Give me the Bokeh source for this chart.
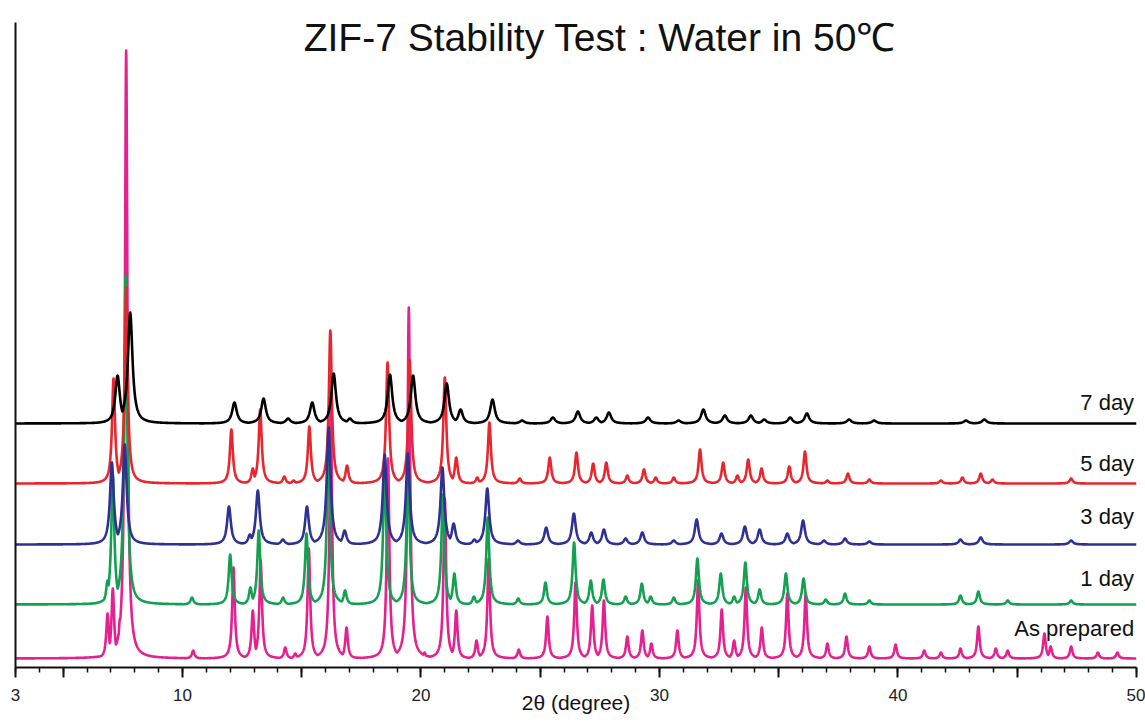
import numpy as np
from bokeh.plotting import figure
from bokeh.models import Range1d, FixedTicker, Label, ColumnDataSource
from bokeh.embed import file_html
from bokeh.resources import INLINE
from bokeh.core.properties import value

# ---------------- data ----------------
series_names = ["As prepared", "1 day", "3 day", "5 day", "7 day"]

# peak positions (2-theta, degree) and heights (arbitrary units) for each pattern
prep_pos = [6.86, 7.08, 7.38, 7.64, 10.45, 12.14, 12.95, 13.28, 14.31, 14.73, 15.30, 16.22,
            16.88, 18.62, 19.49, 20.15, 21.00, 21.48, 22.33, 22.84, 24.10, 25.30, 26.48,
            27.18, 27.67, 28.65, 29.28, 29.66, 30.75, 31.62, 32.61, 33.13, 33.62, 34.29,
            35.36, 36.13, 37.04, 37.84, 38.80, 39.90, 41.10, 41.80, 42.62, 43.37, 44.10,
            44.60, 46.14, 46.40, 47.26, 48.38, 49.20]
prep_int = [45, 70, 40, 608, 8, 91, 48, 98, 11, 5, 110, 250,
            31, 200, 351, 6, 160, 48, 18, 100, 9, 42, 76,
            53, 58, 22, 28, 15, 28, 78, 49, 18, 71, 31,
            65, 65, 15, 22, 12, 14, 8, 6, 10, 32, 10,
            8, 25, 12, 12, 6, 6]

day1_pos = [6.86, 7.08, 7.62, 10.40, 12.00, 12.85, 13.20, 14.22, 15.20, 16.12, 16.82, 18.48,
            19.46, 20.92, 21.40, 22.22, 22.80, 24.08, 25.22, 26.42, 27.12, 27.65, 28.58,
            29.26, 29.63, 30.60, 31.59, 32.57, 33.13, 33.60, 34.20, 35.30, 36.04, 36.97,
            37.78, 38.80, 42.62, 43.37, 44.60, 47.26]
day1_int = [24, 130, 329, 7, 50, 17, 74, 7, 71, 170, 14, 140,
            140, 110, 31, 8, 87, 6, 22, 62, 24, 25, 8,
            21, 8, 7, 46, 31, 8, 42, 15, 31, 26, 5,
            11, 4, 9, 13, 4, 4]

day3_pos = [7.04, 7.58, 11.95, 12.83, 13.16, 14.21, 15.22, 16.13, 16.80, 18.48, 19.45, 20.90,
            21.37, 22.24, 22.78, 24.07, 25.25, 26.41, 27.14, 27.67, 28.58, 29.28, 30.60,
            31.56, 32.60, 33.58, 34.20, 35.36, 36.02, 36.90, 37.78, 38.80, 42.62, 43.47,
            47.26]
day3_int = [82, 100, 38, 10, 54, 5, 38, 117, 14, 90, 91, 77,
            21, 5, 56, 4, 17, 31, 12, 15, 6, 12, 4,
            25, 11, 18, 15, 11, 24, 4, 6, 3, 5, 7,
            4]

day5_pos = [7.11, 7.64, 12.05, 12.95, 13.26, 14.27, 14.66, 15.32, 16.20, 16.90, 18.60, 19.53,
            21.00, 21.48, 22.36, 22.87, 24.14, 25.40, 26.52, 27.22, 27.77, 28.65, 29.35,
            29.84, 30.60, 31.70, 32.67, 33.27, 33.72, 34.28, 35.44, 36.10, 37.04, 37.90,
            38.80, 41.80, 42.70, 43.47, 43.96, 47.26]
day5_int = [105, 196, 54, 15, 74, 7, 3, 57, 153, 18, 121, 123,
            106, 26, 6, 61, 5, 26, 31, 20, 21, 8, 14,
            6, 6, 34, 21, 8, 24, 15, 17, 32, 3, 10,
            4, 3, 6, 10, 4, 5]

day7_pos = [7.28, 7.81, 12.18, 13.40, 14.43, 15.44, 16.34, 17.02, 18.70, 19.67, 21.08, 21.66,
            23.00, 24.24, 25.53, 26.58, 27.35, 27.88, 29.52, 30.80, 31.84, 32.74, 33.83,
            34.39, 35.48, 36.18, 37.95, 39.00, 42.85, 43.62]
day7_int = [48, 111, 21, 25, 5, 21, 50, 5, 49, 48, 40, 14,
            24, 3, 6, 12, 6, 11, 6, 3, 14, 8, 8,
            4, 6, 10, 4, 3, 3, 4]

x_tick_labels = ["3", "10", "20", "30", "40", "50"]
x_labeled_ticks = [3, 10, 20, 30, 40, 50]

# ---------------- rendering ----------------
grid = np.linspace(3, 50, 4701)


def pattern(pos, inten, hw):
    p_ = np.asarray(pos, dtype=float)[:, None]
    i_ = np.asarray(inten, dtype=float)[:, None]
    prof = i_ / (1.0 + ((grid[None, :] - p_) / hw) ** 2)
    return prof.max(axis=0)


series = {
    "As prepared": (prep_pos, prep_int),
    "1 day": (day1_pos, day1_int),
    "3 day": (day3_pos, day3_int),
    "5 day": (day5_pos, day5_int),
    "7 day": (day7_pos, day7_int),
}
offsets = {"As prepared": 9, "1 day": 63, "3 day": 123, "5 day": 184, "7 day": 244}
widths = {"As prepared": 0.065, "1 day": 0.075, "3 day": 0.095, "5 day": 0.075, "7 day": 0.115}
colors = {"As prepared": "#e5208f", "1 day": "#13a050", "3 day": "#2e3192",
          "5 day": "#e8262d", "7 day": "#000000"}
label_y = {"As prepared": 39, "1 day": 89, "3 day": 151, "5 day": 204, "7 day": 265}
draw_order = ["As prepared", "1 day", "5 day", "3 day", "7 day"]

p = figure(width=1145, height=722, x_range=Range1d(3, 50), y_range=Range1d(0, 645),
           output_backend="svg", toolbar_location=None,
           min_border_left=15, min_border_right=9, min_border_top=22, min_border_bottom=55)
p.outline_line_color = None
p.xgrid.visible = False
p.ygrid.visible = False
p.background_fill_color = "white"
p.border_fill_color = "white"

for name in draw_order:
    pos, inten = series[name]
    y = pattern(pos, inten, widths[name]) + offsets[name]
    src = ColumnDataSource(dict(x=grid, y=y))
    p.line("x", "y", source=src, line_color=colors[name], line_width=2.6,
           line_join="round")

lab_src = ColumnDataSource(dict(x=[49.9] * len(series_names), y=[label_y[n] for n in series_names],
                                t=series_names))
p.text("x", "y", text="t", source=lab_src, text_align="right", text_baseline="middle",
       text_font=value("Liberation Sans"), text_font_size="22px", text_color="#111111")

title = Label(x=27.5, y=630, text="ZIF-7 Stability Test : Water in 50\u2103",
              text_align="center", text_baseline="middle",
              text_font="Liberation Sans", text_font_size="39px", text_color="#111111")
p.add_layout(title)

# x axis
major = [3] + list(range(5, 51, 5))
minor = list(range(3, 51))
p.xaxis.ticker = FixedTicker(ticks=major, minor_ticks=minor)
overrides = {}
for t in major:
    overrides[t] = x_tick_labels[x_labeled_ticks.index(t)] if t in x_labeled_ticks else ""
p.xaxis.major_label_overrides = overrides
p.xaxis.axis_label = "2\u03b8 (degree)"
p.xaxis.axis_label_text_font = "Liberation Sans"
p.xaxis.axis_label_text_font_size = "21px"
p.xaxis.axis_label_text_font_style = "normal"
p.xaxis.axis_label_text_color = "#111111"
p.xaxis.axis_label_standoff = -13
p.xaxis.major_label_text_font = "Liberation Sans"
p.xaxis.major_label_text_font_size = "17px"
p.xaxis.major_label_text_color = "#222222"
p.xaxis.major_label_standoff = 11
p.xaxis.axis_line_width = 2
p.xaxis.axis_line_color = "#111111"
p.xaxis.major_tick_line_width = 2
p.xaxis.major_tick_line_color = "#111111"
p.xaxis.minor_tick_line_width = 1.5
p.xaxis.minor_tick_line_color = "#111111"
p.xaxis.major_tick_out = 10
p.xaxis.major_tick_in = 0
p.xaxis.minor_tick_out = 5
p.xaxis.minor_tick_in = 0

# y axis: bare line
p.yaxis.ticker = FixedTicker(ticks=[])
p.yaxis.major_label_text_font_size = "0px"
p.yaxis.major_tick_line_color = None
p.yaxis.minor_tick_line_color = None
p.yaxis.major_tick_out = 0
p.yaxis.minor_tick_out = 0
p.yaxis.axis_line_width = 2
p.yaxis.axis_line_color = "#111111"

open("out.html", "w").write(file_html(p, INLINE))
